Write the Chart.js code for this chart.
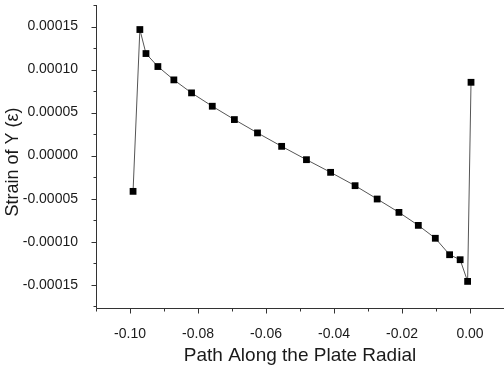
<!DOCTYPE html>
<html>
<head>
<meta charset="utf-8">
<script src="https://cdn.jsdelivr.net/npm/chart.js@4"></script>
<style>
  html, body { margin: 0; padding: 0; background: #fff; }
  #chart { display: block; }
</style>
</head>
<body>
<canvas id="chart" width="504" height="367"></canvas>
<script>
// Strain along the plate radial path
const pathX = [-0.0991, -0.0971, -0.0953, -0.0918, -0.0871, -0.0819, -0.0758, -0.0693, -0.0625, -0.0554,
               -0.0481, -0.0410, -0.0338, -0.0273, -0.0209, -0.0152, -0.0102, -0.0060, -0.0029, -0.0007, 0.0003];
const strainY = [-4.15e-5, 1.465e-4, 1.186e-4, 1.035e-4, 8.80e-5, 7.29e-5, 5.74e-5, 4.19e-5, 2.64e-5, 1.08e-5,
                 -4.7e-6, -1.94e-5, -3.49e-5, -5.04e-5, -6.59e-5, -8.10e-5, -9.60e-5, -1.151e-4, -1.209e-4, -1.461e-4, 8.52e-5];

// Axis ticks
const xTicks = [-0.10, -0.08, -0.06, -0.04, -0.02, 0.00];
const xMinorTicks = [-0.11, -0.09, -0.07, -0.05, -0.03, -0.01, 0.01];
const yTicks = [-0.00015, -0.00010, -0.00005, 0.00000, 0.00005, 0.00010, 0.00015];
const yMinorTicks = [-0.000175, -0.000125, -0.000075, -0.000025, 0.000025, 0.000075, 0.000125, 0.000175];

const FONT = 'Liberation Sans, Arial, sans-serif';
const INK = '#1a1a1a';
const yTitle = 'Strain of Y (ε)';

// Axis lines plus major/minor outward ticks, and the y title (sits a bit below centre)
const axisTicks = {
    id: 'axisTicks',
    afterDraw(chart) {
        const ctx = chart.ctx;
        const area = chart.chartArea;
        const xs = chart.scales.x, ys = chart.scales.y;
        ctx.save();
        ctx.strokeStyle = '#333';
        ctx.lineWidth = 1;
        ctx.beginPath();
        const left = Math.round(area.left) + 0.5;
        const bottom = Math.round(area.bottom) + 0.5;
        ctx.moveTo(left, area.top);
        ctx.lineTo(left, bottom);
        ctx.lineTo(area.right, bottom);
        xTicks.forEach(v => {
            const px = Math.round(xs.getPixelForValue(v)) + 0.5;
            ctx.moveTo(px, bottom); ctx.lineTo(px, bottom + 5);
        });
        xMinorTicks.forEach(v => {
            const px = Math.round(xs.getPixelForValue(v)) + 0.5;
            ctx.moveTo(px, bottom); ctx.lineTo(px, bottom + 3);
        });
        yTicks.forEach(v => {
            const py = Math.round(ys.getPixelForValue(v)) + 0.5;
            ctx.moveTo(left, py); ctx.lineTo(left - 5, py);
        });
        yMinorTicks.forEach(v => {
            const py = Math.round(ys.getPixelForValue(v)) + 0.5;
            ctx.moveTo(left, py); ctx.lineTo(left - 3, py);
        });
        ctx.stroke();

        ctx.translate(13, ys.getPixelForValue(-0.0000075));
        ctx.rotate(-Math.PI / 2);
        ctx.font = '18px ' + FONT;
        ctx.fillStyle = INK;
        ctx.textAlign = 'center';
        ctx.textBaseline = 'middle';
        ctx.fillText(yTitle, 0, 0);
        ctx.restore();
    }
};

new Chart(document.getElementById('chart'), {
    type: 'line',
    data: {
        datasets: [{
            data: pathX.map((x, i) => ({ x: x, y: strainY[i] })),
            borderColor: '#555',
            borderWidth: 1,
            pointStyle: 'rect',
            pointRadius: 4.8,
            pointBackgroundColor: '#000',
            pointBorderColor: '#000',
            pointBorderWidth: 0,
            tension: 0,
            clip: false
        }]
    },
    options: {
        responsive: false,
        animation: false,
        events: [],
        layout: { autoPadding: false, padding: { top: 5, right: 0, left: 0, bottom: 0 } },
        plugins: { legend: { display: false }, tooltip: { enabled: false } },
        scales: {
            x: {
                type: 'linear',
                min: -0.11,
                max: 0.01,
                afterBuildTicks: s => { s.ticks = xTicks.map(v => ({ value: v })); },
                afterFit: s => { s.height = 59; s.paddingLeft = 0; s.paddingRight = 0; },
                grid: { display: false },
                border: { display: false },
                ticks: {
                    padding: 10,
                    color: INK,
                    font: { family: FONT, size: 14 },
                    maxRotation: 0,
                    callback: v => v.toFixed(2)
                },
                title: {
                    display: true,
                    text: 'Path Along the Plate Radial',
                    color: INK,
                    font: { family: FONT, size: 19 },
                    padding: { top: 0, bottom: 0 }
                }
            },
            y: {
                type: 'linear',
                min: -0.000177,
                max: 0.000175,
                afterBuildTicks: s => { s.ticks = yTicks.map(v => ({ value: v })); },
                afterFit: s => { s.width = 96; s.paddingTop = 0; s.paddingBottom = 0; },
                grid: { display: false },
                border: { display: false },
                ticks: {
                    padding: 10,
                    color: INK,
                    font: { family: FONT, size: 14 },
                    callback: v => v.toFixed(5)
                }
            }
        }
    },
    plugins: [axisTicks]
});
</script>
</body>
</html>
